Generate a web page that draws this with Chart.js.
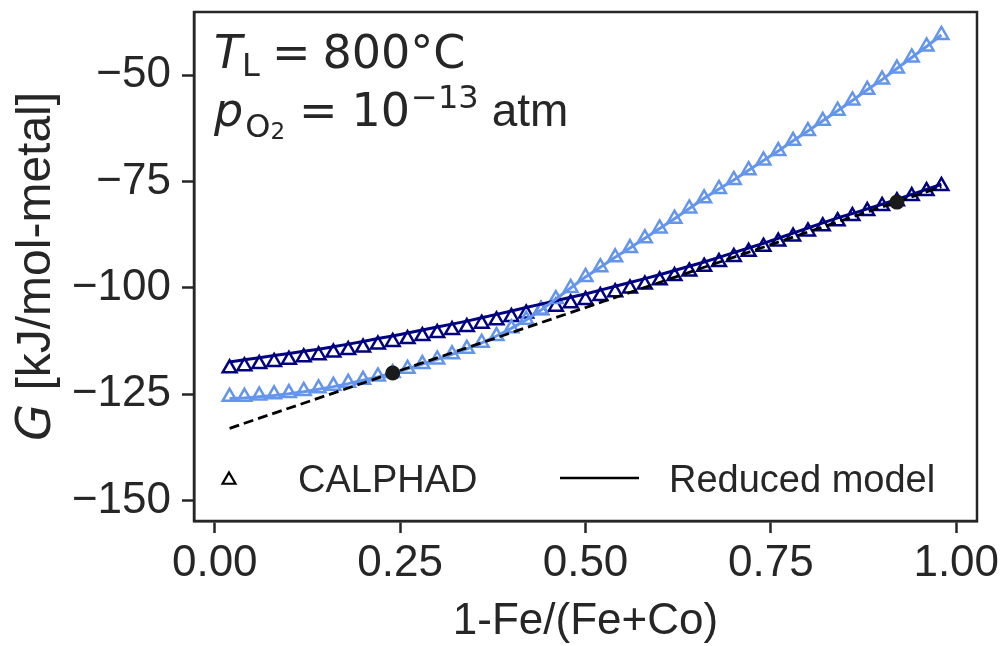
<!DOCTYPE html>
<html>
<head>
<meta charset="utf-8">
<script src="https://cdn.jsdelivr.net/npm/chart.js@4.4.1/dist/chart.umd.min.js"></script>
<style>
  html, body { margin: 0; padding: 0; background: #ffffff; }
  #wrap { width: 1001px; height: 646px; }
</style>
</head>
<body>
<div id="wrap"><canvas id="chart" width="1001" height="646"></canvas></div>
<script>
// Composition axis: 1 - Fe/(Fe+Co)
const composition = [
  0.02, 0.04, 0.06, 0.08, 0.10, 0.12, 0.14, 0.16, 0.18, 0.20,
  0.22, 0.24, 0.26, 0.28, 0.30, 0.32, 0.34, 0.36, 0.38, 0.40,
  0.42, 0.44, 0.46, 0.48, 0.50, 0.52, 0.54, 0.56, 0.58, 0.60,
  0.62, 0.64, 0.66, 0.68, 0.70, 0.72, 0.74, 0.76, 0.78, 0.80,
  0.82, 0.84, 0.86, 0.88, 0.90, 0.92, 0.94, 0.96, 0.98
];

// Light-blue phase, Gibbs energy [kJ/mol-metal]
const lightCalphad = [
  -125.6, -125.6, -125.3, -125.0, -124.7, -124.2, -123.6, -123.0, -122.3, -121.6,
  -120.8, -120.0, -119.0, -117.9, -116.8, -115.6, -114.3, -112.9, -111.3, -109.5,
  -107.5, -105.2, -102.6, -100.0, -97.4, -95.1, -92.8, -90.6, -88.3, -86.0,
  -83.7, -81.3, -78.9, -76.7, -74.6, -72.3, -70.0, -67.8, -65.4, -63.1,
  -60.7, -58.3, -55.9, -53.4, -51.0, -48.4, -45.8, -43.2, -40.5
];
const lightModel = [
  -126.0, -125.9, -125.6, -125.3, -124.9, -124.4, -123.8, -123.2, -122.5, -121.7,
  -120.9, -120.0, -119.0, -117.9, -116.8, -115.6, -114.3, -112.9, -111.3, -109.5,
  -107.5, -105.2, -102.6, -100.0, -97.4, -95.1, -92.8, -90.6, -88.3, -86.0,
  -83.7, -81.3, -78.9, -76.7, -74.6, -72.3, -70.0, -67.8, -65.4, -63.1,
  -60.7, -58.3, -55.9, -53.4, -51.0, -48.4, -45.8, -43.2, -40.5
];

// Navy phase, Gibbs energy [kJ/mol-metal]
const navyCalphad = [
  -118.9, -118.4, -117.9, -117.4, -116.9, -116.3, -115.8, -115.2, -114.6, -114.0,
  -113.3, -112.7, -112.0, -111.3, -110.6, -109.9, -109.2, -108.4, -107.6, -106.8,
  -106.0, -105.2, -104.4, -103.6, -102.8, -101.9, -101.0, -100.1, -99.2, -98.2,
  -97.2, -96.1, -95.0, -93.9, -92.7, -91.5, -90.3, -89.1, -87.9, -86.7,
  -85.5, -84.3, -83.1, -81.9, -80.7, -79.6, -78.4, -77.2, -76.0
];
const navyModel = [
  -117.4, -116.9, -116.4, -115.9, -115.4, -114.9, -114.4, -113.8, -113.2, -112.6,
  -111.9, -111.3, -110.6, -109.9, -109.2, -108.5, -107.8, -107.0, -106.2, -105.4,
  -104.6, -103.8, -103.0, -102.2, -101.4, -100.5, -99.6, -98.7, -97.8, -96.9,
  -95.9, -94.9, -93.9, -92.8, -91.7, -90.6, -89.5, -88.3, -87.1, -85.9,
  -84.7, -83.5, -82.5, -81.4, -80.3, -79.2, -78.0, -76.8, -75.6
];

// Common tangent and its contact points
const tangentX = [0.02, 0.98];
const tangentG = [-133.0, -76.2];
const contactX = [0.24, 0.92];
const contactG = [-120.0, -79.8];

// Axis ticks and labels
const xTickValues = [0, 0.25, 0.5, 0.75, 1];
const yTickValues = [-150, -125, -100, -75, -50];
const legendLabels = ['CALPHAD', 'Reduced model'];
const xTitleText = '1-Fe/(Fe+Co)';
const yTitleSymbol = 'G';
const yTitleUnit = ' [kJ/mol-metal]';

const INK = '#262626';
const LIGHT = '#6495ED';
const NAVY = '#000080';
const SANS = '"Liberation Sans", Arial, sans-serif';
const MATH = '"DejaVu Sans", sans-serif';

function pairs(xs, ys) {
  return xs.map((x, i) => ({ x: x, y: ys[i] }));
}

function markerSet(label, ys, color) {
  return {
    label: label,
    data: pairs(composition, ys),
    showLine: false,
    pointStyle: 'triangle',
    pointRadius: 8,
    pointHoverRadius: 8,
    pointBorderWidth: 2.5,
    pointBorderColor: color,
    pointBackgroundColor: 'rgba(0,0,0,0)',
    borderColor: color,
    order: 3
  };
}

function lineSet(label, ys, color) {
  return {
    label: label,
    data: pairs(composition, ys),
    showLine: true,
    pointRadius: 0,
    pointHoverRadius: 0,
    borderColor: color,
    borderWidth: 3,
    tension: 0,
    fill: false,
    order: 2
  };
}

// Draws the run of text pieces one after another on a common line
function drawRuns(ctx, x, y, runs) {
  let cx = x;
  runs.forEach(r => {
    ctx.font = r.font;
    const px = cx + (r.dx || 0);
    ctx.fillText(r.text, px, y + (r.dy || 0));
    cx = px + ctx.measureText(r.text).width;
  });
}

const decorations = {
  id: 'decorations',
  afterDraw(chart) {
    const ctx = chart.ctx;
    const a = chart.chartArea;
    ctx.save();

    // full frame
    ctx.strokeStyle = INK;
    ctx.lineWidth = 2.5;
    ctx.strokeRect(a.left, a.top, a.right - a.left, a.bottom - a.top);

    ctx.fillStyle = INK;
    ctx.textBaseline = 'alphabetic';
    ctx.textAlign = 'left';

    // y axis title, rotated
    ctx.save();
    ctx.translate(50, (a.top + a.bottom) / 2);
    ctx.rotate(-Math.PI / 2);
    const fG = 'italic 48px ' + MATH;
    const fU = '48px ' + SANS;
    ctx.font = fG;
    const wG = ctx.measureText(yTitleSymbol).width;
    ctx.font = fU;
    const wU = ctx.measureText(yTitleUnit).width;
    drawRuns(ctx, -(wG + wU) / 2, 0, [
      { text: yTitleSymbol, font: fG },
      { text: yTitleUnit, font: fU }
    ]);
    ctx.restore();

    // x axis title
    ctx.font = '44px ' + SANS;
    ctx.textAlign = 'center';
    ctx.fillText(xTitleText, (a.left + a.right) / 2, 634);
    ctx.textAlign = 'left';

    // condition annotations
    const big = '46px ' + MATH;
    const bigIt = 'italic 46px ' + MATH;
    const sub = '32px ' + MATH;
    const subsub = '23px ' + MATH;
    const x0 = a.left + 20;
    drawRuns(ctx, x0, 68, [
      { text: 'T', font: bigIt },
      { text: 'L', font: sub, dy: 8 },
      { text: '=', font: big, dx: 12 },
      { text: '800°C', font: big, dx: 12 }
    ]);
    drawRuns(ctx, x0, 126, [
      { text: 'p', font: bigIt },
      { text: 'O', font: sub, dx: 2, dy: 11 },
      { text: '2', font: subsub, dy: 13 },
      { text: '=', font: big, dx: 14 },
      { text: '10', font: big, dx: 14 },
      { text: '−13', font: sub, dy: -18, dx: 1 },
      { text: 'atm', font: '46px ' + SANS, dx: 13 }
    ]);

    // legend
    ctx.strokeStyle = '#000000';
    ctx.lineWidth = 2.2;
    const tx = 229, ty = 480, r = 7.5;
    ctx.beginPath();
    ctx.moveTo(tx, ty - r);
    ctx.lineTo(tx + r * Math.sin(2 * Math.PI / 3), ty + r / 2);
    ctx.lineTo(tx - r * Math.sin(2 * Math.PI / 3), ty + r / 2);
    ctx.closePath();
    ctx.stroke();
    ctx.lineWidth = 2.5;
    ctx.beginPath();
    ctx.moveTo(560, 478);
    ctx.lineTo(639, 478);
    ctx.stroke();
    ctx.font = '38px ' + SANS;
    ctx.fillStyle = INK;
    ctx.fillText(legendLabels[0], 298, 492);
    ctx.fillText(legendLabels[1], 669, 492);

    ctx.restore();
  }
};

const tickFont = { family: SANS, size: 44 };

new Chart(document.getElementById('chart'), {
  type: 'scatter',
  data: {
    datasets: [
      {
        label: 'contact points',
        data: pairs(contactX, contactG),
        showLine: false,
        pointStyle: 'circle',
        pointRadius: 7.5,
        pointHoverRadius: 7.5,
        pointBackgroundColor: '#1a1a1a',
        pointBorderColor: '#1a1a1a',
        pointBorderWidth: 0,
        order: 0
      },
      {
        label: 'common tangent',
        data: pairs(tangentX, tangentG),
        showLine: true,
        pointRadius: 0,
        pointHoverRadius: 0,
        borderColor: '#000000',
        borderWidth: 2.8,
        borderDash: [10, 5],
        order: 1
      },
      lineSet('light model', lightModel, LIGHT),
      lineSet('navy model', navyModel, NAVY),
      markerSet('light CALPHAD', lightCalphad, LIGHT),
      markerSet('navy CALPHAD', navyCalphad, NAVY)
    ]
  },
  options: {
    responsive: false,
    animation: false,
    devicePixelRatio: 1,
    layout: { padding: { top: 12, right: 24, left: 0, bottom: 0 } },
    plugins: {
      legend: { display: false },
      tooltip: { enabled: false }
    },
    scales: {
      x: {
        type: 'linear',
        min: -0.028,
        max: 1.028,
        afterBuildTicks: s => { s.ticks = xTickValues.map(v => ({ value: v })); },
        afterFit: s => { s.height = 125; s.paddingLeft = 0; s.paddingRight = 0; },
        ticks: {
          font: tickFont,
          color: INK,
          padding: 4,
          maxRotation: 0,
          autoSkip: false,
          callback: v => Number(v).toFixed(2)
        },
        grid: {
          drawOnChartArea: false,
          drawTicks: true,
          tickLength: 12,
          tickWidth: 2.5,
          tickColor: INK
        },
        border: { display: true, color: INK, width: 2.5 }
      },
      y: {
        type: 'linear',
        min: -154.8,
        max: -35.1,
        afterBuildTicks: s => { s.ticks = yTickValues.map(v => ({ value: v })); },
        afterFit: s => { s.width = 194; s.paddingTop = 0; s.paddingBottom = 0; },
        ticks: {
          font: tickFont,
          color: INK,
          padding: 11,
          autoSkip: false,
          callback: v => (v < 0 ? '−' + Math.abs(v) : String(v))
        },
        grid: {
          drawOnChartArea: false,
          drawTicks: true,
          tickLength: 12,
          tickWidth: 2.5,
          tickColor: INK
        },
        border: { display: true, color: INK, width: 2.5 }
      }
    }
  },
  plugins: [decorations]
});
</script>
</body>
</html>
